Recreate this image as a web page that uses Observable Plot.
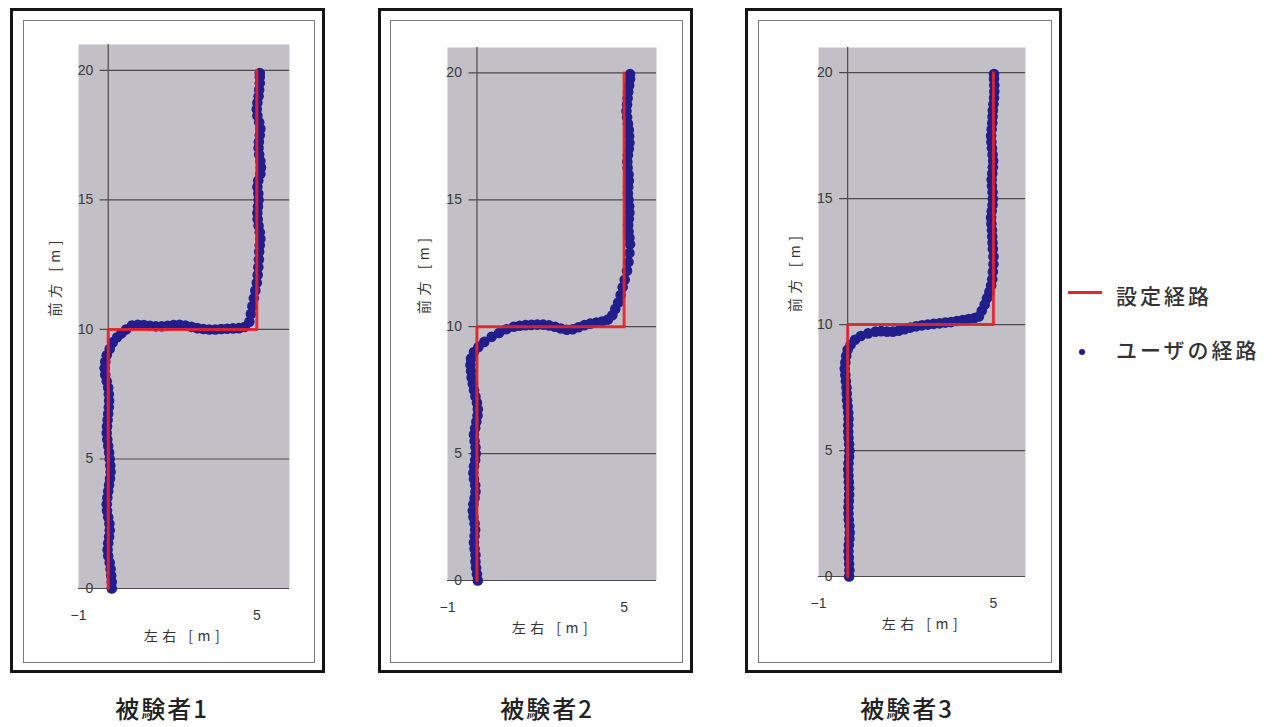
<!DOCTYPE html>
<html><head><meta charset="utf-8">
<script src="https://cdn.jsdelivr.net/npm/d3@7"></script>
<script src="https://cdn.jsdelivr.net/npm/@observablehq/plot@0.6"></script>
<style>
html,body{margin:0;padding:0;background:#fff;}
#root{position:relative;width:1284px;height:727px;overflow:hidden;background:#fff;}
.outer{position:absolute;box-sizing:border-box;border:3px solid #151515;}
.inner{position:absolute;box-sizing:border-box;border:1.5px solid #7a7a7a;}
.plot{position:absolute;}
.cap{position:absolute;font-family:"Noto Sans CJK JP",sans-serif;font-weight:500;font-size:24px;letter-spacing:2px;color:#222;transform:translate(-50%,-50%);white-space:nowrap;}
.leg{position:absolute;font-family:"Noto Sans CJK JP",sans-serif;font-weight:500;font-size:21px;letter-spacing:3px;color:#333;transform:translateY(-50%);white-space:nowrap;}
</style></head>
<body><div id="root"></div>
<script>
// ---- data ----
const subjects = ["被験者1", "被験者2", "被験者3"];
const xTicks = [-1, 5];
const yTicks = [0, 5, 10, 15, 20];
const xDomain = [-1, 6.1];
const yDomain = [0, 21];
const xTitle = "左右 [m]";
const yTitle = "前方 [m]";
const legendLabels = ["設定経路", "ユーザの経路"];
const setPath = [[0, 0], [0, 10], [5, 10], [5, 20]];

const user1 = [
[0.12,0],[0.12,0.25],[0.1,0.5],[0.08,0.75],[0.05,1],[0,1.25],[-0.02,1.5],[0,1.75],[0.03,2],[0.05,2.25],[0.04,2.5],[0,2.75],[-0.04,3],[-0.05,3.25],[-0.03,3.5],[0,3.75],[0.03,4],[0.06,4.25],[0.08,4.5],[0.07,4.75],[0.05,5],[0.03,5.25],[0,5.5],[-0.03,5.75],[-0.05,6],[-0.04,6.25],[-0.02,6.5],[0,6.75],[0.02,7],[0.03,7.25],[0.02,7.5],[0,7.75],[-0.05,8],[-0.1,8.25],[-0.12,8.5],[-0.1,8.75],[-0.05,9],[0.05,9.25],[0.15,9.5],[0.3,9.7],[0.45,9.85],[0.6,10.0],
[0.8,10.15],[1.0,10.18],[1.2,10.17],[1.4,10.14],[1.6,10.12],[1.8,10.12],[2.0,10.14],[2.2,10.17],[2.4,10.18],[2.6,10.15],[2.8,10.1],[3.0,10.05],[3.2,10.02],[3.4,10.0],[3.6,10.0],[3.8,10.02],[4.0,10.03],[4.2,10.04],[4.4,10.05],[4.6,10.1],[4.75,10.3],
[4.8,10.6],[4.85,10.9],[4.9,11.2],[4.95,11.5],[5.0,11.8],[5.03,12.1],[5.05,12.4],[5.07,12.7],[5.08,13.0],
[5.1,13.25],[5.12,13.5],[5.1,13.75],[5.06,14],[5.03,14.25],[5.02,14.5],[5.04,14.75],[5.06,15],[5.05,15.25],[5.02,15.5],[5.05,15.75],[5.12,16],[5.14,16.25],[5.12,16.5],[5.08,16.75],[5.06,17],[5.07,17.25],[5.1,17.5],[5.12,17.75],[5.08,18],[5.02,18.25],[5.0,18.5],[5.02,18.75],[5.06,19],[5.08,19.25],[5.1,19.5],[5.1,19.75],[5.1,19.9]
];
const user2 = [
[0.03,0],[0,0.25],[-0.03,0.5],[-0.05,0.75],[-0.05,1],[-0.08,1.25],[-0.1,1.5],[-0.08,1.75],[-0.06,2],[-0.08,2.25],[-0.12,2.5],[-0.14,2.75],[-0.12,3],[-0.08,3.25],[-0.05,3.5],[-0.06,3.75],[-0.1,4],[-0.12,4.25],[-0.1,4.5],[-0.06,4.75],[-0.04,5],[-0.05,5.25],[-0.08,5.5],[-0.1,5.75],[-0.06,6],[-0.02,6.25],[0.02,6.5],[0.03,6.75],[0,7],[-0.05,7.25],[-0.1,7.5],[-0.14,7.75],[-0.18,8],[-0.2,8.25],[-0.22,8.5],[-0.2,8.75],[-0.1,9.0],[0.05,9.2],[0.25,9.4],[0.5,9.6],[0.75,9.75],[1.0,9.9],[1.25,10.0],
[1.45,10.04],[1.65,10.06],[1.85,10.07],[2.05,10.08],[2.25,10.08],[2.45,10.05],[2.65,10.0],[2.85,9.93],[3.05,9.88],[3.25,9.9],[3.45,9.98],[3.65,10.06],[3.85,10.12],[4.05,10.16],[4.25,10.2],[4.45,10.28],[4.6,10.45],[4.7,10.7],[4.8,10.95],[4.88,11.25],[4.95,11.55],[5.02,11.85],[5.1,12.2],[5.15,12.55],[5.18,12.9],
[5.2,13.25],[5.18,13.5],[5.15,13.75],[5.14,14],[5.16,14.25],[5.18,14.5],[5.17,14.75],[5.15,15],[5.13,15.25],[5.14,15.5],[5.16,15.75],[5.15,16],[5.12,16.25],[5.11,16.5],[5.13,16.75],[5.16,17],[5.18,17.25],[5.17,17.5],[5.16,17.75],[5.13,18],[5.1,18.25],[5.08,18.5],[5.1,18.75],[5.12,19],[5.14,19.25],[5.17,19.5],[5.2,19.75],[5.2,19.95]
];
const user3 = [
[0.05,0],[0.06,0.25],[0.05,0.5],[0.04,0.75],[0.03,1],[0.04,1.25],[0.06,1.5],[0.07,1.75],[0.06,2],[0.04,2.25],[0.03,2.5],[0.03,2.75],[0.04,3],[0.05,3.25],[0.05,3.5],[0.04,3.75],[0.03,4],[0.02,4.25],[0.03,4.5],[0.05,4.75],[0.06,5],[0.05,5.25],[0.03,5.5],[0.02,5.75],[0.02,6],[0.03,6.25],[0.02,6.5],[0,6.75],[-0.02,7],[-0.03,7.25],[-0.04,7.5],[-0.06,7.75],[-0.08,8],[-0.1,8.25],[-0.08,8.5],[-0.05,8.75],[0,9.0],[0.1,9.2],[0.25,9.4],[0.45,9.55],[0.7,9.65],[0.95,9.72],
[1.15,9.74],[1.35,9.72],[1.55,9.72],[1.75,9.76],[1.95,9.82],[2.15,9.88],[2.35,9.93],[2.55,9.97],[2.75,10.0],[2.95,10.03],[3.15,10.05],[3.35,10.08],[3.55,10.1],[3.75,10.14],[3.95,10.18],[4.15,10.22],[4.35,10.26],[4.5,10.32],[4.6,10.55],[4.7,10.8],[4.78,11.05],[4.86,11.3],[4.92,11.55],[4.96,11.8],[4.98,12.1],[5.0,12.4],[5.0,12.7],
[4.98,13],[4.97,13.25],[4.96,13.5],[4.95,13.75],[4.93,14],[4.92,14.25],[4.94,14.5],[4.97,14.75],[4.98,15],[4.97,15.25],[4.95,15.5],[4.94,15.75],[4.96,16],[4.98,16.25],[4.99,16.5],[4.97,16.75],[4.95,17],[4.93,17.25],[4.92,17.5],[4.94,17.75],[4.96,18],[4.97,18.25],[4.98,18.5],[5.0,18.75],[5.02,19],[5.03,19.25],[5.03,19.5],[5.02,19.75],[5.02,19.95]
];
const userPaths = [user1, user2, user3];

// ---- layout & style ----
const GRAY = "#c2c0c6", GRID = "#4a4a4a", RED = "#e8232b", BLUE = "#221d8c";
const boxes = [
  {gl: 78, gr: 289, gt: 44, gb: 588, ol: 10, or: 325, il: 23, ir: 315, cx: 162},
  {gl: 447, gr: 656, gt: 47, gb: 580, ol: 378, or: 693, il: 390, ir: 683, cx: 547},
  {gl: 818, gr: 1025, gt: 47, gb: 576, ol: 745, or: 1062, il: 758, ir: 1052, cx: 907}
];
const root = document.getElementById("root");
const jp = "Noto Sans CJK JP, sans-serif";
const lat = "Liberation Sans, Arial, sans-serif";

boxes.forEach((b, i) => {
  const o = document.createElement("div");
  o.className = "outer";
  Object.assign(o.style, {left: b.ol + "px", top: "8px", width: (b.or - b.ol) + "px", height: "665px"});
  root.appendChild(o);
  const inn = document.createElement("div");
  inn.className = "inner";
  Object.assign(inn.style, {left: b.il + "px", top: "20px", width: (b.ir - b.il) + "px", height: "643px"});
  root.appendChild(inn);

  const ml = 60, mr = 20, mt = 10, mb = 70;
  const plot = Plot.plot({
    width: b.gr - b.gl + ml + mr,
    height: b.gb - b.gt + mt + mb,
    marginLeft: ml, marginRight: mr, marginTop: mt, marginBottom: mb,
    x: {domain: xDomain},
    y: {domain: yDomain, axis: null},
    style: {background: "transparent", fontFamily: lat, fontSize: "14px", color: "#333", overflow: "visible"},
    marks: [
      Plot.frame({fill: GRAY, stroke: null}),
      Plot.ruleY(yTicks.filter(d => d > 0), {y: d => d, x1: () => 0, x2: () => xDomain[1], insetLeft: -8, stroke: GRID, strokeWidth: 1.2}),
      Plot.ruleY([0], {stroke: GRID, strokeWidth: 1.2}),
      Plot.ruleX([0], {stroke: GRID, strokeWidth: 1.2}),
      Plot.text(yTicks, {x: () => 0, y: d => d, text: d => String(d), dx: -15, textAnchor: "end", fontSize: 14, fill: "#3a3a3a", fontFamily: lat}),
      Plot.axisX({ticks: xTicks, tickSize: 0, tickPadding: 22, label: null, fontSize: 14}),
      Plot.text([xTitle], {frameAnchor: "bottom", dy: 52, text: d => d, fontSize: 14, fill: "#333", fontFamily: jp}),
      Plot.text([yTitle], {frameAnchor: "left", rotate: -90, dx: -23, text: d => d, fontSize: 14, fill: "#333", fontFamily: jp}),
      Plot.dot(userPaths[i], {x: d => d[0], y: d => d[1], r: 5.3, fill: BLUE, stroke: null}),
      Plot.line(setPath, {x: d => d[0], y: d => d[1], stroke: RED, strokeWidth: 3, strokeOpacity: 0.92})
    ]
  });
  d3.select(plot).selectAll("text")
    .filter(function() { return this.textContent === xTitle || this.textContent === yTitle; })
    .attr("letter-spacing", "4.5px");
  plot.classList.add("plot");
  plot.style.left = (b.gl - ml) + "px";
  plot.style.top = (b.gt - mt) + "px";
  root.appendChild(plot);

  const cap = document.createElement("div");
  cap.className = "cap";
  cap.textContent = subjects[i];
  cap.style.left = b.cx + "px";
  cap.style.top = "707px";
  root.appendChild(cap);
});

// legend
const ln = document.createElement("div");
Object.assign(ln.style, {position: "absolute", left: "1068px", top: "291px", width: "34px", height: "3px", background: RED});
root.appendChild(ln);
const dt = document.createElement("div");
Object.assign(dt.style, {position: "absolute", left: "1079px", top: "349px", width: "6px", height: "6px", borderRadius: "50%", background: BLUE});
root.appendChild(dt);
[[legendLabels[0], 295], [legendLabels[1], 349]].forEach(([t, y]) => {
  const d = document.createElement("div");
  d.className = "leg";
  d.textContent = t;
  d.style.left = "1116px";
  d.style.top = y + "px";
  root.appendChild(d);
});
</script>
</body></html>
